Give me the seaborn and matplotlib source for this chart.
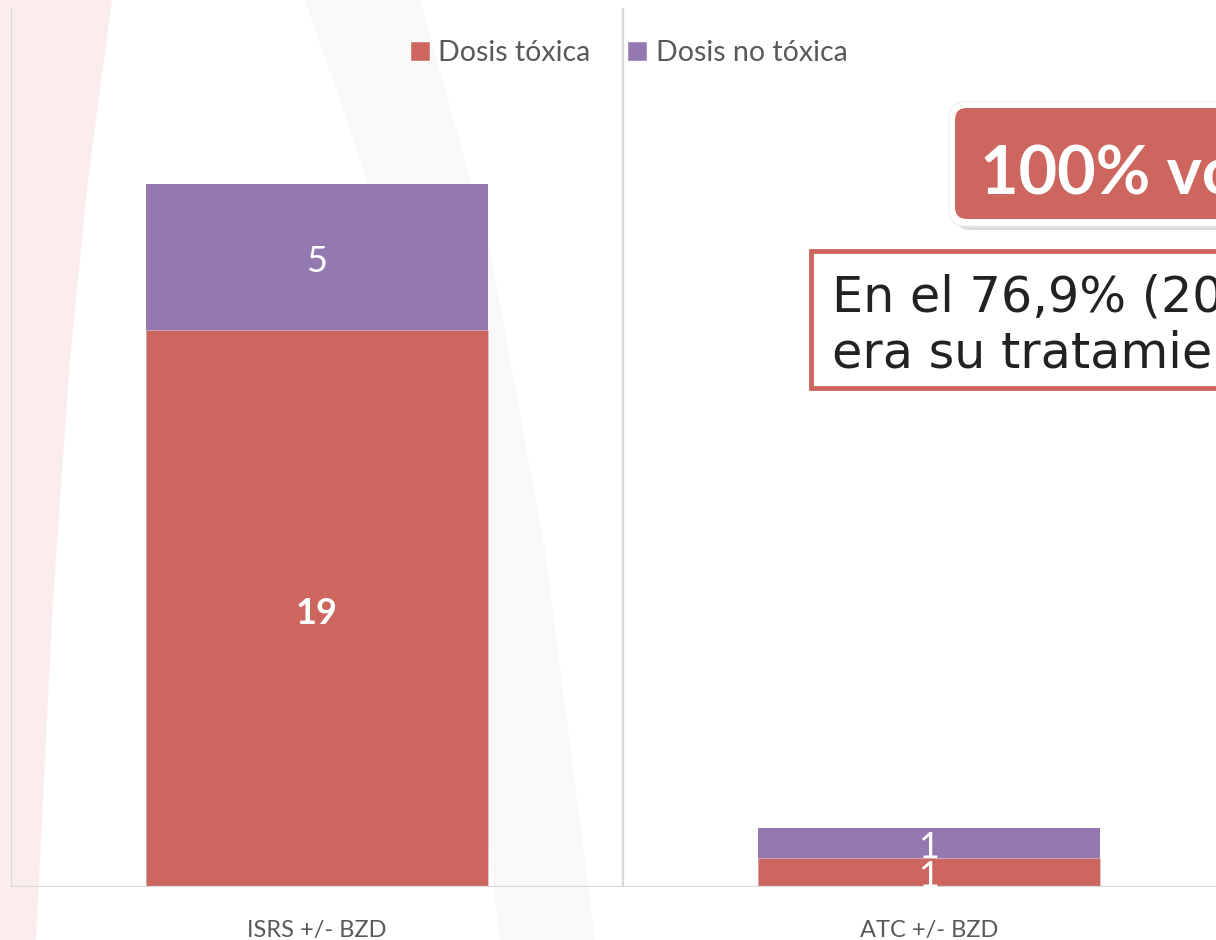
import matplotlib
matplotlib.use("Agg")
import matplotlib.pyplot as plt
import seaborn as sns
from matplotlib.patches import Patch, FancyBboxPatch, Rectangle, Polygon

categories = ["ISRS +/- BZD", "ATC +/- BZD"]
toxica = [19, 1]
no_toxica = [5, 1]
series_names = ["Dosis tóxica", "Dosis no tóxica"]

red = "#CD665F"
purple = "#9379B0"
grid = "#d9d9d9"

sns.set_theme(style="white")
plt.rcParams["font.family"] = ["Lato", "DejaVu Sans"]

fig = plt.figure(figsize=(12.16, 9.4), dpi=100)

# background decoration (faint slide shapes), pixel coords
bg = fig.add_axes([0, 0, 1, 1], zorder=0)
bg.set_xlim(0, 1216)
bg.set_ylim(940, 0)
bg.axis("off")
bg.add_patch(Polygon([(0, 0), (112, 0), (88, 180), (70, 360), (53, 600), (36, 940), (0, 940)],
                     closed=True, facecolor="#fbeded", edgecolor="none"))
bg.add_patch(Polygon([(305, 0), (420, 0), (490, 250), (545, 550), (595, 940),
                      (500, 940), (455, 560), (395, 260)],
                     closed=True, facecolor="#f8f8f8", edgecolor="none"))

ax = fig.add_axes([11 / 1216, 53 / 940, 1 - 11 / 1216, 879 / 940], zorder=1)
ax.patch.set_alpha(0)

totals = [a + b for a, b in zip(toxica, no_toxica)]
sns.barplot(x=categories, y=totals, color=purple, width=0.559, saturation=1, ax=ax, zorder=2,
            edgecolor="none", linewidth=0)
sns.barplot(x=categories, y=toxica, color=red, width=0.559, saturation=1, ax=ax, zorder=3,
            edgecolor="#e8d0d0", linewidth=0.4)

ax.set_xlim(-0.5, 1.469)
ax.set_ylim(0, 30)
for s in ax.spines.values():
    s.set_visible(False)
for xv in [-0.5, 0.5, 1.5]:
    ax.axvline(xv, color=grid, lw=1.6, zorder=1)
ax.axhline(0, color=grid, lw=1.6, zorder=4)
ax.set_yticks([])
ax.tick_params(axis="x", length=0, pad=24, labelsize=17, labelcolor="#595959")
ax.set_xlabel("")
ax.set_ylabel("")

# data labels
for i, (t, n) in enumerate(zip(toxica, no_toxica)):
    ax.text(i, t / 2 - 0.15, str(t), color="white", ha="center", va="center", fontsize=26,
            fontweight="bold" if t > 1 else "normal", zorder=5)
    ax.text(i, t + n / 2 - 0.15, str(n), color="white", ha="center", va="center", fontsize=26, zorder=5)

handles = [Patch(facecolor=red, label=series_names[0]), Patch(facecolor=purple, label=series_names[1])]
fig.legend(handles=handles, loc="center", bbox_to_anchor=(0.517, 0.944), ncol=2, frameon=False,
           fontsize=20.5, labelcolor="#595959", handlelength=0.7, handleheight=0.7,
           handletextpad=0.3, columnspacing=1.3)

# overlay call-outs
ov = fig.add_axes([0, 0, 1, 1], zorder=5)
ov.set_xlim(0, 1216)
ov.set_ylim(940, 0)
ov.axis("off")
ov.add_patch(FancyBboxPatch((956, 114), 400, 116, boxstyle="round,pad=0,rounding_size=14",
                            facecolor="#8a8a8a", edgecolor="none", alpha=0.3))
ov.add_patch(FancyBboxPatch((949, 102), 400, 124, boxstyle="round,pad=0,rounding_size=16",
                            facecolor="white", edgecolor="#eeeeee", lw=0.8))
ov.add_patch(FancyBboxPatch((955, 108), 400, 111, boxstyle="round,pad=0,rounding_size=12",
                            facecolor=red, edgecolor="none"))
ov.text(980, 193, "100% voluntarias", color="white", fontsize=48, fontweight="bold",
        ha="left", va="baseline")
ov.add_patch(Rectangle((811, 251), 500, 137, facecolor="white", edgecolor=red, lw=3.5))
ov.text(832, 312, "En el 76,9% (20/26)", color="#222222", fontsize=35.5, ha="left", va="baseline",
        family="DejaVu Sans")
ov.text(832, 367, "era su tratamiento", color="#222222", fontsize=35.5, ha="left", va="baseline",
        family="DejaVu Sans")

fig.savefig("out.png", dpi=100)
